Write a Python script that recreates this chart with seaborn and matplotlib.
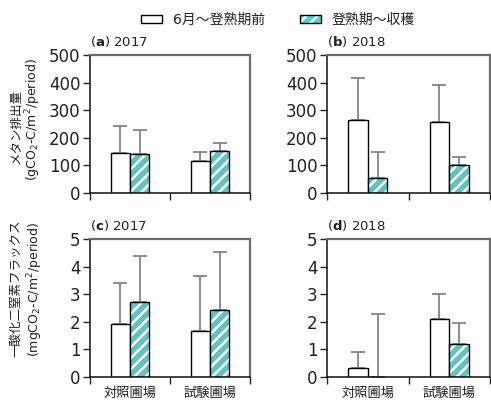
import numpy as np
import pandas as pd
import matplotlib
matplotlib.use("Agg")
import matplotlib.pyplot as plt
from matplotlib.patches import Patch, Rectangle
from matplotlib.legend_handler import HandlerTuple
from matplotlib.ticker import FixedLocator, MultipleLocator
import seaborn as sns

sns.set_style("white")
plt.rcParams["font.family"] = ["DejaVu Sans", "Noto Sans CJK JP"]
plt.rcParams["hatch.linewidth"] = 1.8

# ---- data ----
sites = ["対照圃場", "試験圃場"]
periods = ["6月～登熟期前", "登熟期～収穫"]

# methane emission (gCO2-C/m2/period)
ch4_2017_early = [144, 115]
ch4_2017_late = [140, 153]
ch4_2017_early_sd = [100, 32]
ch4_2017_late_sd = [90, 27]
ch4_2018_early = [263, 258]
ch4_2018_late = [53, 100]
ch4_2018_early_sd = [152, 132]
ch4_2018_late_sd = [94, 29]

# nitrous oxide flux (mgCO2-C/m2/period)
n2o_2017_early = [1.93, 1.67]
n2o_2017_late = [2.70, 2.41]
n2o_2017_early_sd = [1.48, 1.99]
n2o_2017_late_sd = [1.68, 2.12]
n2o_2018_early = [0.34, 2.09]
n2o_2018_late = [0.0, 1.20]
n2o_2018_early_sd = [0.57, 0.91]
n2o_2018_late_sd = [2.27, 0.74]

panels = [
    ("a", "2017", ch4_2017_early, ch4_2017_late, ch4_2017_early_sd, ch4_2017_late_sd, 500, 100),
    ("b", "2018", ch4_2018_early, ch4_2018_late, ch4_2018_early_sd, ch4_2018_late_sd, 500, 100),
    ("c", "2017", n2o_2017_early, n2o_2017_late, n2o_2017_early_sd, n2o_2017_late_sd, 5, 1),
    ("d", "2018", n2o_2018_early, n2o_2018_late, n2o_2018_early_sd, n2o_2018_late_sd, 5, 1),
]

W, H = 491, 403
fig = plt.figure(figsize=(W / 100, H / 100), dpi=100)

def rect(x0, y0, x1, y1):
    return [x0 / W, 1 - y1 / H, (x1 - x0) / W, (y1 - y0) / H]

rects = [rect(90, 55, 250, 193), rect(327, 55, 490, 193),
         rect(90, 239, 250, 377), rect(327, 239, 490, 377)]

cyan = "#52d2d2"
palette = {periods[0]: "white", periods[1]: cyan}
err_color = "#858585"

for i, (tag, year, early, late, sd_e, sd_l, ymax, step) in enumerate(panels):
    ax = fig.add_axes(rects[i])
    df = pd.DataFrame({
        "site": sites * 2,
        "period": [periods[0]] * 2 + [periods[1]] * 2,
        "value": list(early) + list(late),
        "sd": list(sd_e) + list(sd_l),
    })
    sns.barplot(data=df, x="site", y="value", hue="period", order=sites,
                hue_order=periods, palette=palette, width=0.48,
                edgecolor="black", linewidth=1.0, errorbar=None,
                legend=False, ax=ax, zorder=2)

    # upper error bars from each bar top
    for cont, sds in zip(ax.containers, [sd_e, sd_l]):
        for j, p in enumerate(cont.patches):
            xc = p.get_x() + p.get_width() / 2
            val = p.get_height()
            ax.errorbar([xc], [val], yerr=[[0], [sds[j]]], fmt="none",
                        ecolor=err_color, elinewidth=1.3, capsize=5,
                        capthick=1.3, zorder=1)
    # hatched second-period bars: white stripes, black outline drawn on top
    for p in ax.containers[1].patches:
        p.set_hatch("///")
        p.set_edgecolor("white")
        p.set_linewidth(0)
        ax.add_patch(Rectangle(p.get_xy(), p.get_width(), p.get_height(),
                               fill=False, edgecolor="black", linewidth=1.0,
                               zorder=3))

    ax.set_xlim(-0.5, 1.5)
    ax.set_ylim(0, ymax)
    ax.yaxis.set_major_locator(MultipleLocator(step))
    ax.set_xlabel("")
    ax.set_ylabel("")

    ax.xaxis.set_minor_locator(FixedLocator([-0.5, 0.5, 1.5]))
    ax.tick_params(axis="x", which="minor", bottom=True, length=5, width=1,
                   direction="out", color="#222222")
    ax.tick_params(axis="x", which="major", length=0, pad=7, labelsize=9.5,
                   labelcolor="#222222")
    ax.tick_params(axis="y", which="major", left=True, length=5, width=1,
                   direction="out", pad=2, labelsize=12, color="#222222",
                   labelcolor="#222222")
    if i < 2:
        ax.set_xticklabels([])

    for s in ("left", "bottom"):
        ax.spines[s].set_color("#111111")
        ax.spines[s].set_linewidth(1.1)
    for s in ("top", "right"):
        ax.spines[s].set_color("#6a6a6a")
        ax.spines[s].set_linewidth(1.6)

    ax.text(0.0, 1.04, r"($\mathbf{" + tag + r"}$) " + year,
            transform=ax.transAxes, ha="left", va="bottom", fontsize=9.5,
            color="#222222")

# axis titles for each row
fig.text(16 / W, 1 - 126 / H, "メタン排出量", rotation=90, ha="center",
         va="center", fontsize=9, color="#222222")
fig.text(33 / W, 1 - 120 / H, r"(gCO$_2$-C/m$^2$/period)", rotation=90,
         ha="center", va="center", fontsize=9, color="#222222")
fig.text(16 / W, 1 - 288 / H, "一酸化二窒素フラックス", rotation=90,
         ha="center", va="center", fontsize=9, color="#222222")
fig.text(35 / W, 1 - 289 / H, r"(mgCO$_2$-C/m$^2$/period)", rotation=90,
         ha="center", va="center", fontsize=9, color="#222222")

# legend
h_early = Patch(facecolor="white", edgecolor="black", linewidth=1.0)
h_late = (Patch(facecolor=cyan, edgecolor="white", hatch="///", linewidth=0),
          Patch(facecolor="none", edgecolor="black", linewidth=1.0))
fig.legend([h_early, h_late], periods, loc="center", ncol=2,
           bbox_to_anchor=(278 / W, 1 - 20 / H), frameon=False, fontsize=10,
           handlelength=1.5, handleheight=0.5, columnspacing=2.5,
           handletextpad=0.8, labelcolor="#222222",
           handler_map={tuple: HandlerTuple(ndivide=1)})

fig.savefig("out.png", dpi=100)
